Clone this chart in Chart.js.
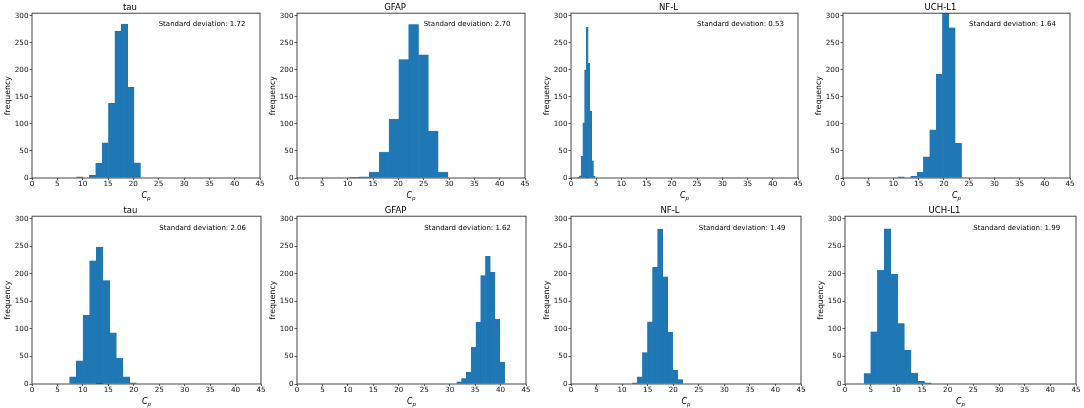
<!DOCTYPE html>
<html>
<head>
<meta charset="utf-8">
<script src="https://cdn.jsdelivr.net/npm/chart.js@4.4.1/dist/chart.umd.min.js"></script>
<style>
  html, body { margin: 0; padding: 0; background: #fff; }
  #wrap { position: relative; width: 1084px; height: 408px; overflow: hidden; }
  #wrap canvas { position: absolute; }
</style>
</head>
<body>
<div id="wrap"></div>
<script>
// Panel titles and annotation text
const panelTitles = ["tau", "GFAP", "NF-L", "UCH-L1", "tau", "GFAP", "NF-L", "UCH-L1"];
const stdDevs = ["1.72", "2.70", "0.53", "1.64", "2.06", "1.62", "1.49", "1.99"];

// Histogram range [min, max] of each panel (10 equal bins)
const binRanges = [
    [8.8, 21.4], [10.4, 29.8], [1.3, 4.8], [10.9, 23.5],
    [7.4, 20.5], [31.4, 40.8], [12.0, 21.9], [3.7, 16.8]
];

// Bin counts
const tauTop = [2, 0, 5, 27, 65, 138, 272, 285, 168, 28];
const gfapTop = [1, 2, 11, 48, 109, 219, 284, 228, 87, 11];
const nflTop = [1, 4, 40, 102, 200, 279, 212, 124, 32, 3];
const uchTop = [2, 0, 3, 11, 39, 89, 192, 320, 278, 64];
const tauBottom = [13, 42, 125, 224, 249, 188, 93, 47, 13, 2];
const gfapBottom = [4, 10, 21, 67, 112, 197, 232, 203, 118, 40];
const nflBottom = [2, 13, 57, 113, 212, 281, 195, 94, 25, 8];
const uchBottom = [19, 95, 207, 282, 200, 110, 61, 20, 5, 2];
const panelCounts = [tauTop, gfapTop, nflTop, uchTop, tauBottom, gfapBottom, nflBottom, uchBottom];

// Axis ticks
const xTicks = [0, 5, 10, 15, 20, 25, 30, 35, 40, 45];
const yTicks = [0, 50, 100, 150, 200, 250, 300];
const xMax = 45;
const yMax = 305;

// Plot-area boxes in page pixels: [left, top, right, bottom]
const plotBoxes = [
    [31.7, 13.3, 259.3, 178.3], [297.3, 13.3, 525, 178.3], [570.7, 13.3, 797.7, 178.3], [843.3, 13.3, 1070, 178.3],
    [31.7, 215.7, 261, 383], [297.3, 215.7, 526.7, 383], [570.7, 215.7, 801, 383], [845, 215.7, 1076, 383]
];

const FONT = "DejaVu Sans";
const BAR_COLOR = "#1f77b4";
const AXIS_W = 32, XAXIS_H = 24, TITLE_H = 10.2, PAD_R = 8;

Chart.defaults.font.family = FONT;

// frame, std-dev note and the C_p label
const panelDecor = {
    id: "panelDecor",
    afterDatasetsDraw(chart, args, opts) {
        const { ctx, chartArea: a, scales } = chart;
        ctx.save();
        ctx.strokeStyle = "#333";
        ctx.lineWidth = 0.9;
        ctx.strokeRect(a.left, a.top, a.right - a.left, a.bottom - a.top);

        ctx.fillStyle = "#000";
        ctx.font = `7px "${FONT}"`;
        ctx.textAlign = "left";
        ctx.textBaseline = "middle";
        ctx.fillText("Standard deviation: " + opts.sd, scales.x.getPixelForValue(25), scales.y.getPixelForValue(284));

        const cx = (a.left + a.right) / 2;
        const cy = a.bottom + 18;
        ctx.font = `italic 8px "${FONT}"`;
        const wC = ctx.measureText("C").width;
        ctx.font = `italic 5.5px "${FONT}"`;
        const wp = ctx.measureText("p").width;
        const x0 = cx - (wC + wp) / 2;
        ctx.font = `italic 8px "${FONT}"`;
        ctx.fillText("C", x0, cy);
        ctx.font = `italic 5.5px "${FONT}"`;
        ctx.fillText("p", x0 + wC, cy + 2.5);
        ctx.restore();
    }
};

function binCenters(range, n) {
    const w = (range[1] - range[0]) / n;
    const out = [];
    for (let i = 0; i < n; i++) out.push(range[0] + (i + 0.5) * w);
    return out;
}

const wrap = document.getElementById("wrap");

panelTitles.forEach((title, p) => {
    const box = plotBoxes[p];
    const left = Math.round(box[0] - AXIS_W);
    const top = Math.round(box[1] - TITLE_H);
    const width = Math.round(AXIS_W + (box[2] - box[0]) + PAD_R);
    const height = Math.round(TITLE_H + (box[3] - box[1]) + XAXIS_H);

    const canvas = document.createElement("canvas");
    canvas.width = width;
    canvas.height = height;
    canvas.style.left = left + "px";
    canvas.style.top = top + "px";
    canvas.style.width = width + "px";
    canvas.style.height = height + "px";
    wrap.appendChild(canvas);

    const counts = panelCounts[p];
    const centers = binCenters(binRanges[p], counts.length);
    const tickFont = { family: FONT, size: 7.2 };
    const tickGrid = { drawOnChartArea: false, drawTicks: true, color: "#333", lineWidth: 0.8, offset: false };

    new Chart(canvas, {
        type: "bar",
        data: {
            datasets: [{
                data: centers.map((x, i) => ({ x: x, y: counts[i] })),
                backgroundColor: BAR_COLOR,
                borderColor: BAR_COLOR,
                borderWidth: 0.4,
                barPercentage: 1,
                categoryPercentage: 1
            }]
        },
        options: {
            responsive: false,
            animation: false,
            devicePixelRatio: 1,
            layout: { padding: { left: 0, right: PAD_R, top: 0, bottom: 0 } },
            plugins: {
                legend: { display: false },
                tooltip: { enabled: false },
                title: {
                    display: true,
                    text: title,
                    color: "#000",
                    font: { family: FONT, size: 8.5, weight: "normal" },
                    padding: { top: 0, bottom: 0 }
                },
                panelDecor: { sd: stdDevs[p] }
            },
            scales: {
                x: {
                    type: "linear",
                    min: 0,
                    max: xMax,
                    offset: false,
                    grid: Object.assign({ tickLength: 2 }, tickGrid),
                    border: { display: false },
                    ticks: { font: tickFont, color: "#111", padding: 0, maxRotation: 0, autoSkip: false },
                    afterBuildTicks: s => { s.ticks = xTicks.map(v => ({ value: v })); },
                    afterFit: s => { s.height = XAXIS_H; s.paddingLeft = 0; s.paddingRight = 0; }
                },
                y: {
                    type: "linear",
                    min: 0,
                    max: yMax,
                    grid: Object.assign({ tickLength: 2.5 }, tickGrid),
                    border: { display: false },
                    ticks: { font: tickFont, color: "#111", padding: 1, autoSkip: false },
                    title: {
                        display: true,
                        text: "frequency",
                        color: "#000",
                        font: { family: FONT, size: 7.8 },
                        padding: { top: 3.5, bottom: 0 }
                    },
                    afterBuildTicks: s => { s.ticks = yTicks.map(v => ({ value: v })); },
                    afterFit: s => { s.width = AXIS_W; s.paddingTop = 0; s.paddingBottom = 0; }
                }
            }
        },
        plugins: [panelDecor]
    });
});
</script>
</body>
</html>
